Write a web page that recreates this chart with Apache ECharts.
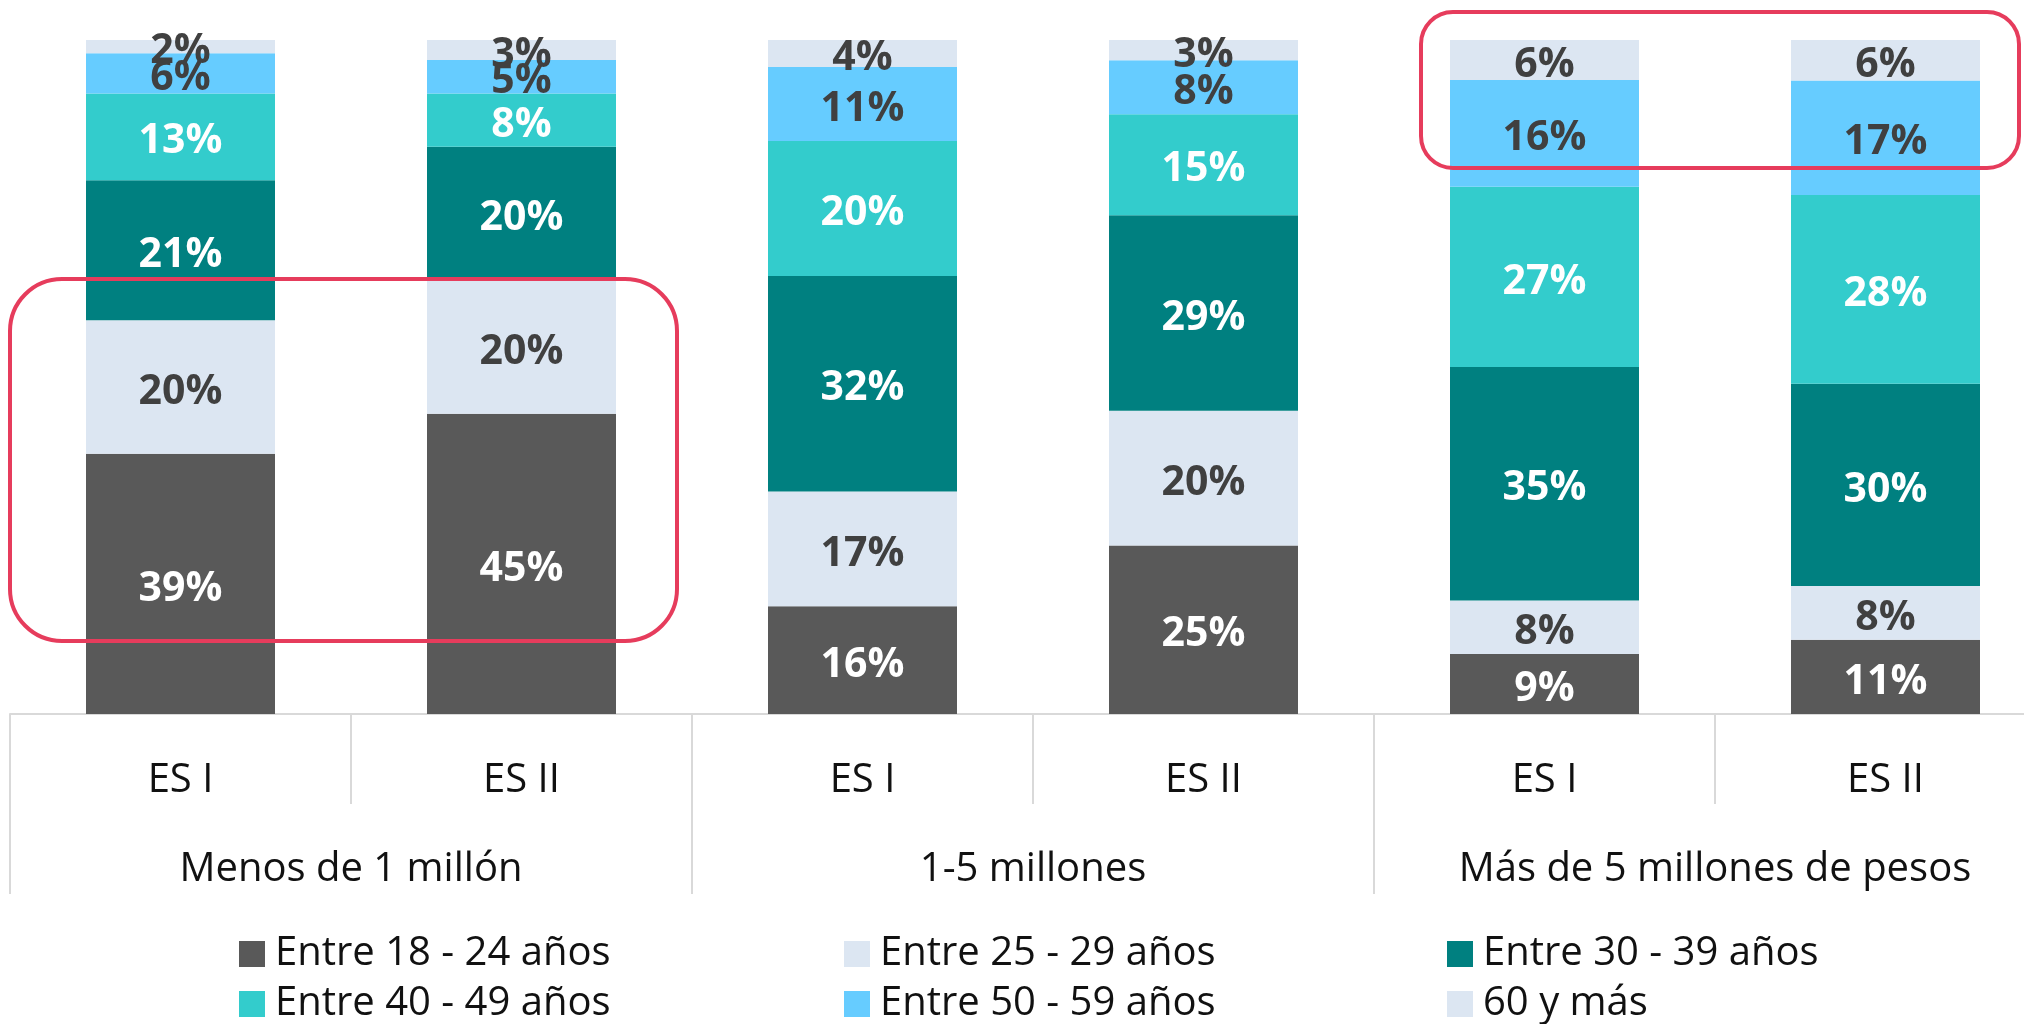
<!DOCTYPE html>
<html>
<head>
<meta charset="utf-8">
<script src="https://cdn.jsdelivr.net/npm/echarts@6/dist/echarts.min.js"></script>
<style>
  html, body { margin: 0; padding: 0; background: #fff; overflow: hidden; }
  /* the original chart runs a bit past the right edge, so the canvas is wider than the window */
  #main { width: 2060px; height: 1024px; }
</style>
</head>
<body>
<div id="main"></div>
<script>
// categories
const bars = ['ES I', 'ES II', 'ES I', 'ES II', 'ES I', 'ES II'];
const groups = ['Menos de 1 millón', '1-5 millones', 'Más de 5 millones de pesos'];
const ageNames = ['Entre 18 - 24 años', 'Entre 25 - 29 años', 'Entre 30 - 39 años',
                  'Entre 40 - 49 años', 'Entre 50 - 59 años', '60 y más'];

// percentages per bar (bottom to top of the stack)
const age18_24 = [39, 45, 16, 25, 9, 11];
const age25_29 = [20, 20, 17, 20, 8, 8];
const age30_39 = [21, 20, 32, 29, 35, 30];
const age40_49 = [13, 8, 20, 15, 27, 28];
const age50_59 = [6, 5, 11, 8, 16, 17];
const age60plus = [2, 3, 4, 3, 6, 6];

const allValues = [age18_24, age25_29, age30_39, age40_49, age50_59, age60plus];
const colors = ['#595959', '#DCE6F2', '#008080', '#33CCCC', '#66CCFF', '#DCE6F2'];
const labelColors = ['#ffffff', '#404040', '#ffffff', '#ffffff', '#404040', '#404040'];

const FONT = '"Open Sans", "Noto Sans", sans-serif';

// each bar is drawn as a 100% stack (rounded values can sum to 101)
const totals = bars.map((b, i) => allValues.reduce((s, arr) => s + arr[i], 0));

const series = allValues.map((vals, k) => ({
    name: ageNames[k],
    type: 'bar',
    stack: 'total',
    barWidth: 189,
    itemStyle: { color: colors[k] },
    label: {
        show: true,
        position: 'inside',
        offset: [0, 5],
        fontFamily: FONT,
        fontSize: 41,
        fontWeight: 'bold',
        color: labelColors[k],
        formatter: p => vals[p.dataIndex] + '%'
    },
    data: vals.map((v, i) => v / totals[i] * 100)
}));

// legend in two rows of three, aligned in columns
const legendCols = [234, 839, 1442];
const legendRows = [929, 979];
const legends = ageNames.map((name, k) => ({
    data: [name],
    left: legendCols[k % 3],
    top: legendRows[Math.floor(k / 3)],
    itemWidth: 26,
    itemHeight: 26,
    icon: 'rect',
    selectedMode: false,
    textStyle: { fontFamily: FONT, fontSize: 40, color: '#111', lineHeight: 40, padding: [0, 0, 0, 5] }
}));

const option = {
    animation: false,
    backgroundColor: '#fff',
    grid: { left: 10, top: 40, width: 2046, height: 674, containLabel: false },
    legend: legends,
    xAxis: [
        {
            type: 'category',
            data: bars,
            position: 'bottom',
            axisLine: { show: true, lineStyle: { color: '#D9D9D9', width: 2 } },
            axisTick: { show: true, length: 90, lineStyle: { color: '#D9D9D9', width: 2 } },
            axisLabel: { margin: 47, fontFamily: FONT, fontSize: 40, color: '#111', lineHeight: 40 }
        },
        {
            type: 'category',
            data: groups,
            position: 'bottom',
            axisLine: { show: false },
            axisTick: { show: true, length: 180, lineStyle: { color: '#D9D9D9', width: 2 } },
            axisLabel: { margin: 136, fontFamily: FONT, fontSize: 40, color: '#111', lineHeight: 40 }
        }
    ],
    yAxis: { type: 'value', min: 0, max: 100, show: false, splitLine: { show: false } },
    series: series,
    graphic: [
        {
            type: 'rect',
            shape: { x: 10, y: 279, width: 667, height: 362, r: 52 },
            style: { fill: 'none', stroke: '#E63C5C', lineWidth: 4 },
            z: 100
        },
        {
            type: 'rect',
            shape: { x: 1421, y: 12, width: 598, height: 156, r: 32 },
            style: { fill: 'none', stroke: '#E63C5C', lineWidth: 4 },
            z: 100
        }
    ]
};

const chart = echarts.init(document.getElementById('main'), null, { renderer: 'canvas' });
chart.setOption(option);
</script>
</body>
</html>
